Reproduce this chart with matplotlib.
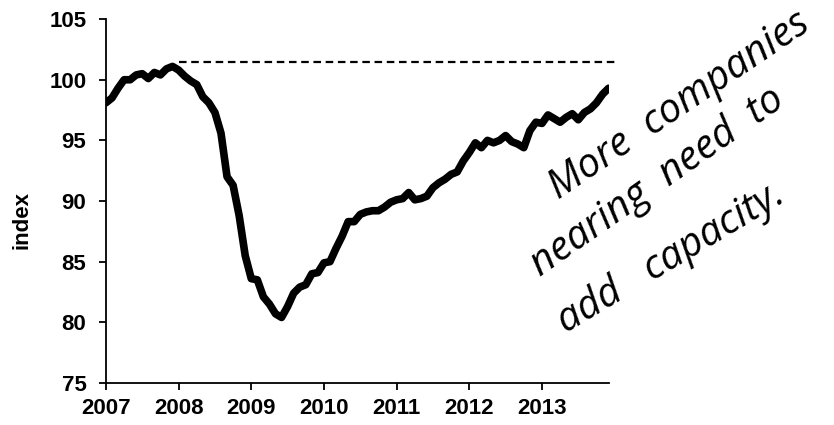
import matplotlib.pyplot as plt
import numpy as np

# monthly index, Jan 2007 .. Dec 2013
values_2007 = [98.1, 98.5, 99.3, 100.0, 100.0, 100.4, 100.5, 100.1, 100.6, 100.4, 100.9, 101.1]
values_2008 = [100.8, 100.3, 99.9, 99.6, 98.6, 98.1, 97.3, 95.6, 92.0, 91.3, 88.8, 85.5]
values_2009 = [83.6, 83.5, 82.1, 81.5, 80.7, 80.4, 81.3, 82.4, 82.9, 83.1, 84.0, 84.1]
values_2010 = [84.9, 85.0, 86.1, 87.1, 88.3, 88.3, 88.9, 89.1, 89.2, 89.2, 89.5, 89.9]
values_2011 = [90.1, 90.2, 90.7, 90.1, 90.2, 90.4, 91.1, 91.5, 91.8, 92.2, 92.4, 93.3]
values_2012 = [94.0, 94.8, 94.4, 95.0, 94.8, 95.0, 95.4, 94.9, 94.7, 94.4, 95.8, 96.5]
values_2013 = [96.4, 97.1, 96.8, 96.5, 96.9, 97.2, 96.7, 97.3, 97.6, 98.1, 98.8, 99.3]

index = (values_2007 + values_2008 + values_2009 + values_2010
         + values_2011 + values_2012 + values_2013)
t = 2007 + np.arange(len(index)) / 12.0

prior_peak = 101.45
peak_start, peak_end = 2008.0, 2014.04

year_ticks = [2007, 2008, 2009, 2010, 2011, 2012, 2013]
y_ticks = [75, 80, 85, 90, 95, 100, 105]

# hand-written note, words spaced out like the scribble
note_lines = ['More  companies', 'nearing  need  to', 'add   capacity.']

plt.rcParams['font.family'] = ['Liberation Sans', 'DejaVu Sans']

fig = plt.figure(figsize=(8.34, 4.25), dpi=100)
ax = fig.add_axes([0.127, 0.099, 0.603, 0.856])

ax.plot(t, index, color='black', lw=5.5, solid_joinstyle='round', solid_capstyle='round')
ax.plot([peak_start, peak_end], [prior_peak, prior_peak], color='black', lw=1.6,
        dashes=(3.4, 2.1), clip_on=False)

ax.set_xlim(2007, 2013.92)
ax.set_ylim(75, 105)
ax.set_xticks(year_ticks)
ax.set_xticklabels([str(y) for y in year_ticks])
ax.set_yticks(y_ticks)
ax.tick_params(axis='both', direction='out', length=5, width=1.3, labelsize=16)
ax.tick_params(axis='x', pad=6)
ax.tick_params(axis='y', pad=9)
for lab in ax.get_xticklabels() + ax.get_yticklabels():
    lab.set_fontweight('bold')
ax.set_ylabel('index', fontsize=16, fontweight='bold')
ax.yaxis.set_label_coords(-0.145, 0.448)

for side in ['top', 'right']:
    ax.spines[side].set_visible(False)
for side in ['left', 'bottom']:
    ax.spines[side].set_linewidth(1.3)

note_kw = dict(fontsize=29, fontstyle='italic', family=['Open Sans', 'DejaVu Sans'],
               rotation_mode='anchor', ha='left', va='baseline',
               transform=fig.transFigure)
fig.text(558 / 834, 1 - 200 / 425, note_lines[0], rotation=34, **note_kw)
fig.text(540 / 834, 1 - 277 / 425, note_lines[1], rotation=35, **note_kw)
fig.text(566 / 834, 1 - 333 / 425, note_lines[2], rotation=31, **note_kw)

fig.savefig('out.png', dpi=100)
